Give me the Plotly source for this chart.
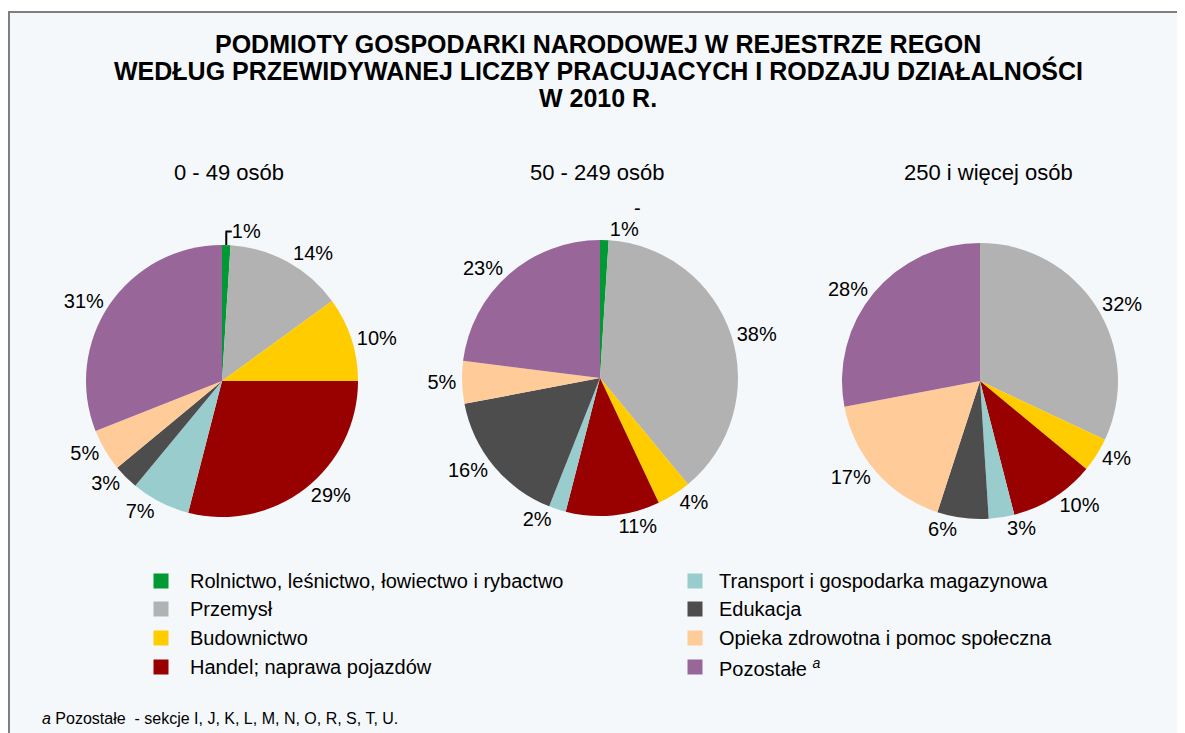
import plotly.graph_objects as go

# ---------------- data ----------------
categories = [
    "Rolnictwo, leśnictwo, łowiectwo i rybactwo",
    "Przemysł",
    "Budownictwo",
    "Handel; naprawa pojazdów",
    "Transport i gospodarka magazynowa",
    "Edukacja",
    "Opieka zdrowotna i pomoc społeczna",
    "Pozostałe",
]
legend_labels = categories[:7] + ["Pozostałe <sup><i>a</i></sup>"]
group_titles = ["0 - 49 osób", "50 - 249 osób", "250 i więcej osób"]
values_0_49 = [1, 14, 10, 29, 7, 3, 5, 31]
values_50_249 = [1, 38, 4, 11, 2, 16, 5, 23]
values_250 = [0, 32, 4, 10, 3, 6, 17, 28]
colors = ["#009933", "#B2B2B2", "#FFCC00", "#990000",
          "#99CCCC", "#4D4D4D", "#FFCC99", "#996699"]

title_lines = ["PODMIOTY GOSPODARKI NARODOWEJ W REJESTRZE REGON",
               "WEDŁUG PRZEWIDYWANEJ LICZBY PRACUJACYCH I RODZAJU DZIAŁALNOŚCI",
               "W 2010 R."]
footnote = "<i>a</i> Pozostałe  - sekcje I, J, K, L, M, N, O, R, S, T, U."

W, H = 1185, 733
OFF = 8  # page body margin
FONT = "Liberation Sans, Arial, sans-serif"


def px_x(x):
    return (x - OFF) / W


def px_y(y):
    return 1 - (y - OFF) / H


fig = go.Figure()

pie_geom = [(222, 381, 136), (600, 378, 138), (980, 381, 138)]
series = [values_0_49, values_50_249, values_250]
for (cx, cy, r), vals in zip(pie_geom, series):
    fig.add_trace(go.Pie(
        labels=categories,
        values=vals,
        text=[f"{v}%" if v > 0 else "" for v in vals],
        textinfo="text",
        textposition="outside",
        sort=False,
        direction="clockwise",
        rotation=0,
        marker=dict(colors=colors, line=dict(width=0)),
        outsidetextfont=dict(family=FONT, size=20, color="#000000"),
        domain=dict(x=[px_x(cx - r), px_x(cx + r)],
                    y=[px_y(cy + r), px_y(cy - r)]),
        showlegend=False,
        hoverinfo="label+percent",
    ))

shapes = [
    dict(type="rect", xref="paper", yref="paper",
         x0=px_x(9), x1=px_x(1220), y0=px_y(760), y1=px_y(12),
         line=dict(color="#7F7F7F", width=2), fillcolor="#F5F8FA", layer="below"),
]
annotations = [
    dict(text="-", x=px_x(638), y=px_y(208), xanchor="center", yanchor="middle",
         showarrow=False, font=dict(family=FONT, size=20, color="#000")),
    dict(text=footnote, x=px_x(40), y=px_y(718), xanchor="left", yanchor="middle",
         showarrow=False, font=dict(family=FONT, size=16, color="#000")),
]
for line, ly in zip(title_lines, [44, 71, 98]):
    annotations.append(dict(text=f"<b>{line}</b>", x=px_x(598), y=px_y(ly),
                            xanchor="center", yanchor="middle", showarrow=False,
                            font=dict(family=FONT, size=25, color="#000")))

title_x = [229, 597, 988]
for t, tx in zip(group_titles, title_x):
    annotations.append(dict(text=t, x=px_x(tx), y=px_y(172), xanchor="center",
                            yanchor="middle", showarrow=False,
                            font=dict(family=FONT, size=22, color="#000")))

# manual two-column legend
rows_y = [581, 609, 638, 667]
cols = [(161, 188), (695, 717)]
for i, (lab, col) in enumerate(zip(legend_labels, colors)):
    c = i // 4
    ry = rows_y[i % 4]
    sx, tx = cols[c]
    shapes.append(dict(type="rect", xref="paper", yref="paper",
                       x0=px_x(sx - 7.5), x1=px_x(sx + 7.5), y0=px_y(ry + 7.5), y1=px_y(ry - 7.5),
                       line=dict(width=0), fillcolor=col))
    annotations.append(dict(text=lab, x=px_x(tx), y=px_y(ry), xanchor="left",
                            yanchor="middle", showarrow=False,
                            font=dict(family=FONT, size=20, color="#000")))

fig.update_layout(
    width=W, height=H,
    margin=dict(l=0, r=0, t=0, b=0),
    paper_bgcolor="#FFFFFF",
    plot_bgcolor="#FFFFFF",
    shapes=shapes,
    annotations=annotations,
    showlegend=False,
)

fig.write_html("out.html")
